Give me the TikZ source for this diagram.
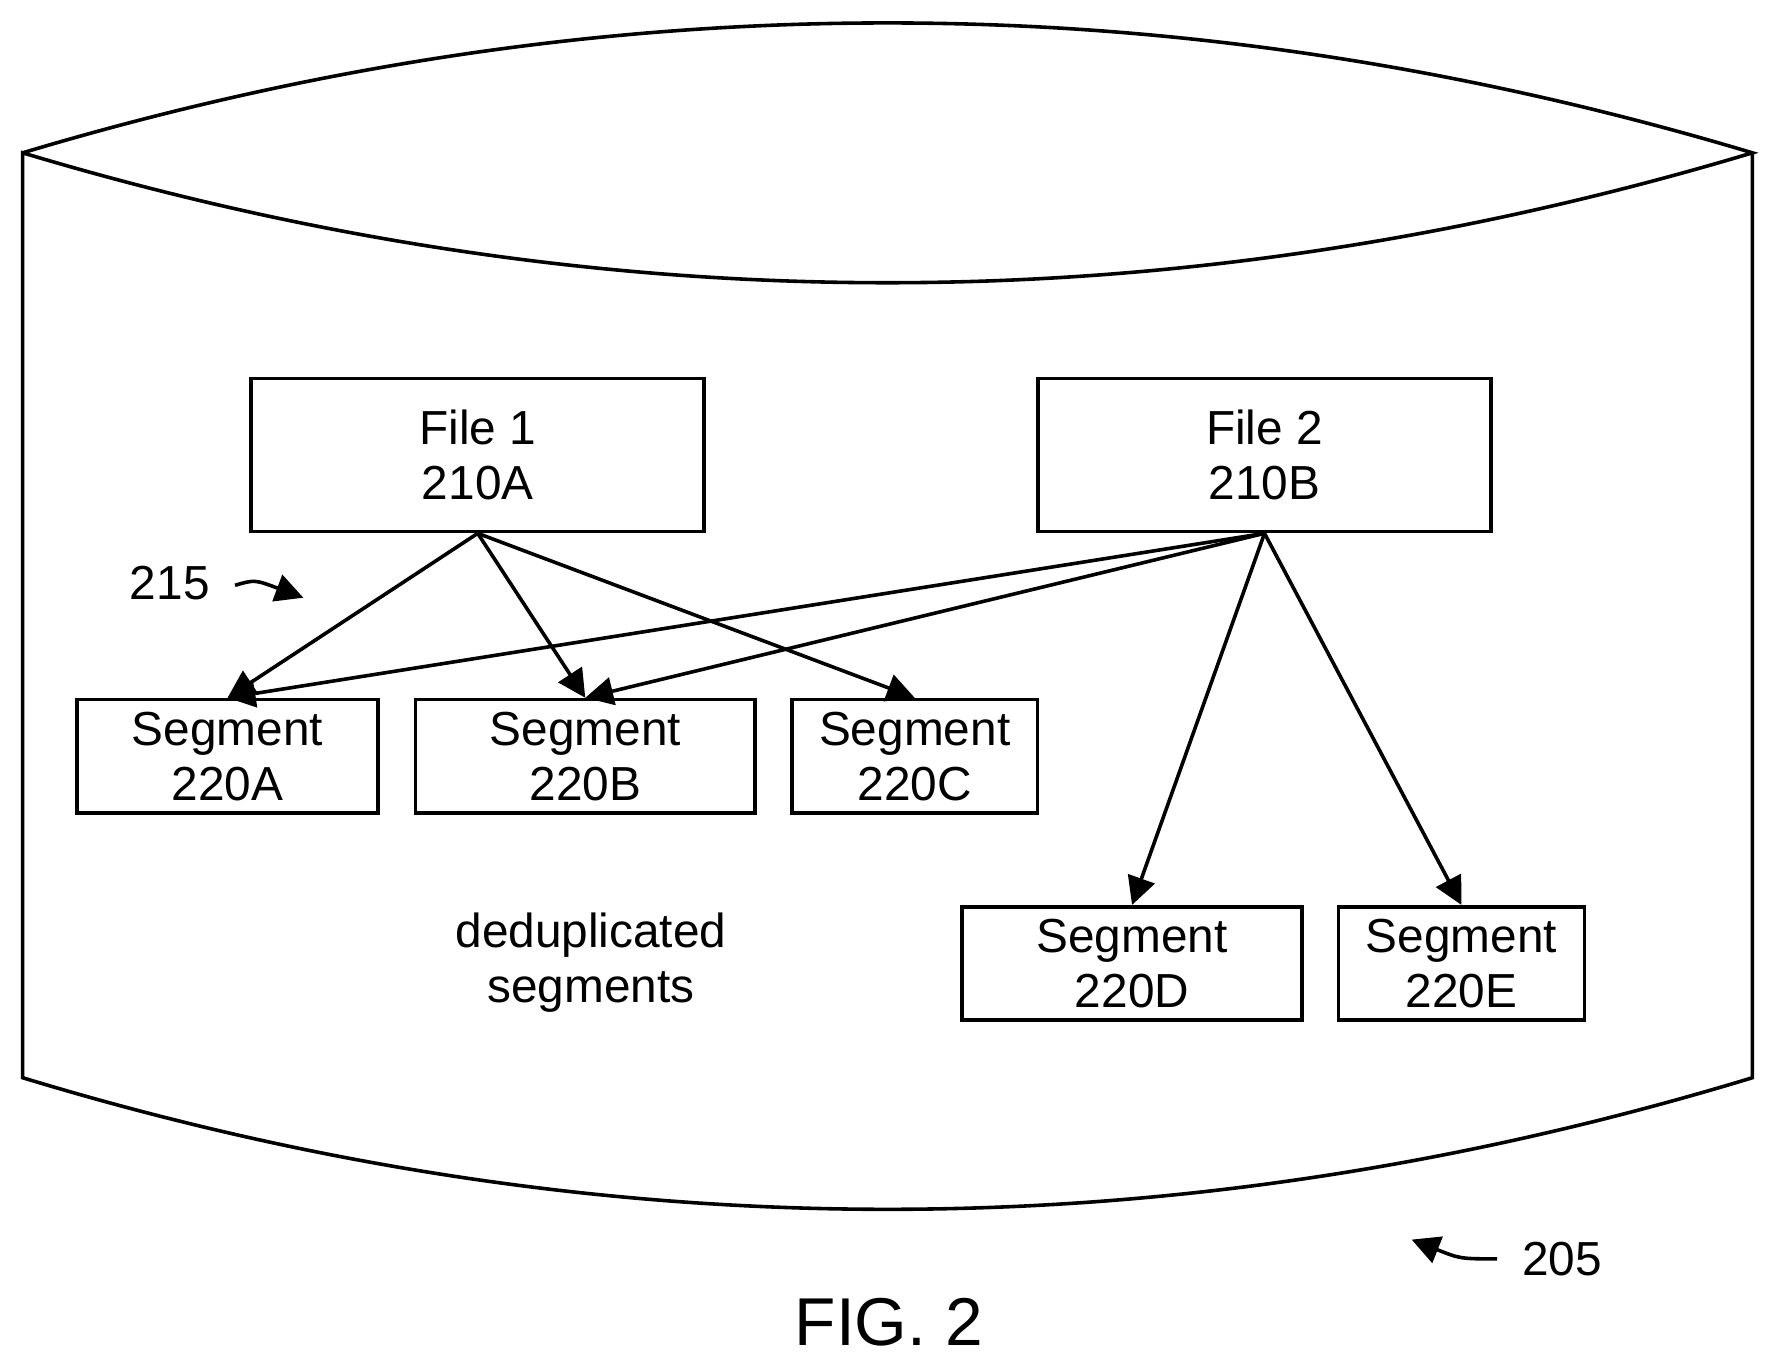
\documentclass[tikz,border=0pt]{standalone}
\usepackage{fontspec}
\setmainfont{Liberation Sans}
\usetikzlibrary{arrows.meta}
\begin{document}
\begin{tikzpicture}[
x=0.01cm, y=-0.01cm,
font=\fontsize{12}{13.8}\selectfont,
box/.style={rectangle, draw, line width=0.9pt, align=center, inner sep=0pt},
filebox/.style={box, minimum width=4cm, minimum height=1.35cm},
segbox/.style={box, minimum height=1cm},
arrow/.style={-{Triangle[length=7pt,width=7pt]}, line width=0.9pt}
]
\useasboundingbox (0,0) rectangle (1560,1200);

% Disk outline
\draw[line width=0.9pt] (20,135) .. controls (530,-18) and (1038,-18) .. (1548,135)
  .. controls (1038,288) and (530,288) .. (20,135) -- (20,952)
  .. controls (530,1107) and (1038,1107) .. (1548,952) -- (1548,135);

% Files
\node (file1) [filebox] at (422,402) {File 1\\210A};
\node (file2) [filebox] at (1117,402) {File 2\\210B};

% Segments
\node (segA) [segbox, minimum width=2.66cm] at (201,668) {Segment\\220A};
\node (segB) [segbox, minimum width=3cm] at (517,668) {Segment\\220B};
\node (segC) [segbox, minimum width=2.17cm] at (808,668) {Segment\\220C};
\node (segD) [segbox, minimum width=3cm] at (1000,851) {Segment\\220D};
\node (segE) [segbox, minimum width=2.17cm] at (1291,851) {Segment\\220E};

% Labels
\node (dedup) [align=center] at (522,850) {deduplicated\\segments};
\node (lbl215) at (150,515) {215};
\node (lbl205) at (1380,1112) {205};
\node (fig) [font=\fontsize{17}{20}\selectfont] at (785,1168) {FIG. 2};
\coordinate (tip215) at (268,528);
\coordinate (tip205) at (1247,1095);

% Arrows
\draw [arrow] (file1.south) -- (segA.north);
\draw [arrow] (file1.south) -- (segB.north);
\draw [arrow] (file1.south) -- (segC.north);
\draw [arrow] (file2.south) -- (segA.north);
\draw [arrow] (file2.south) -- (segB.north);
\draw [arrow] (file2.south) -- (segD.north);
\draw [arrow] (file2.south) -- (segE.north);

% Reference arrows
\draw [arrow] (lbl215.east) ++(10,2) .. controls (225,512) .. (tip215);
\draw [arrow] (lbl205.west) ++(-10,0) .. controls (1290,1112) .. (tip205);
\end{tikzpicture}
\end{document}
